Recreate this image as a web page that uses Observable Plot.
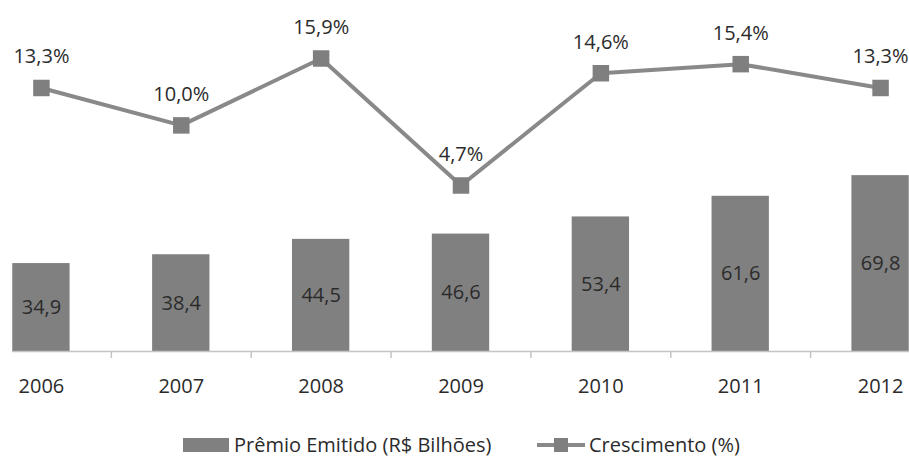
<!DOCTYPE html>
<html>
<head>
<meta charset="utf-8">
<script src="https://cdn.jsdelivr.net/npm/d3@7"></script>
<script src="https://cdn.jsdelivr.net/npm/@observablehq/plot@0.6"></script>
<style>
  html, body { margin: 0; padding: 0; background: #fff; }
  #wrap { position: relative; width: 909px; height: 458px; font-family: "Open Sans", sans-serif; color: #333; }
  #wrap svg { position: absolute; left: 0; top: 0; }
  #legend { position: absolute; left: 0; top: 431px; width: 909px; height: 27px; }
</style>
</head>
<body>
<div id="wrap"></div>
<script>
const years = ["2006", "2007", "2008", "2009", "2010", "2011", "2012"];
const premio = [34.9, 38.4, 44.5, 46.6, 53.4, 61.6, 69.8];
const crescimento = [13.3, 10.0, 15.9, 4.7, 14.6, 15.4, 13.3];
const legendLabels = ["Prêmio Emitido (R$ Bilhões)", "Crescimento (%)"];

const data = years.map((y, i) => ({year: y, premio: premio[i], cresc: crescimento[i]}));
const fmt = v => v.toFixed(1).replace(".", ",");

const W = 909, H = 410;
const xOpts = {type: "band", domain: years, range: [-29, 950], paddingInner: 0.59, paddingOuter: 0.295, align: 0.5, round: false};
const bs = d3.scaleBand().domain(years).range(xOpts.range).paddingInner(0.59).paddingOuter(0.295).align(0.5);
const step = bs.step();

const font = "Open Sans, sans-serif";
const textColor = "#2b2b2b";

const bars = Plot.plot({
  width: W, height: H,
  marginTop: 0, marginBottom: 59, marginLeft: 12, marginRight: 0,
  style: {fontFamily: font, background: "transparent", overflow: "hidden"},
  x: xOpts,
  y: {domain: [0, 139.3], axis: null},
  marks: [
    Plot.barY(data, {x: "year", y: "premio", fill: "#808080"}),
    Plot.ruleY([0], {stroke: "#c4c4c4", strokeWidth: 1.5}),
    Plot.axisX({tickSize: 7, tickFormat: () => "", dx: step / 2, stroke: "#c4c4c4", strokeWidth: 1.5, label: null}),
    Plot.axisX({tickSize: 0, tickPadding: 27, fontSize: 20, fill: textColor, label: null}),
    Plot.text(data, {x: "year", y: d => d.premio / 2, text: d => fmt(d.premio), fontSize: 20, fill: textColor})
  ]
});

const line = Plot.plot({
  width: W, height: H,
  marginTop: 0, marginBottom: 59, marginLeft: 12, marginRight: 0,
  style: {fontFamily: font, background: "transparent"},
  x: {...xOpts, axis: null},
  y: {domain: [4.7, 15.9], range: [185, 58], axis: null},
  marks: [
    Plot.line(data, {x: "year", y: "cresc", stroke: "#898989", strokeWidth: 4}),
    Plot.dot(data, {x: "year", y: "cresc", symbol: "square", r: 9.3, fill: "#7f7f7f", stroke: "none"}),
    Plot.text(data, {x: "year", y: "cresc", text: d => fmt(d.cresc) + "%", dy: -31, fontSize: 20, fill: textColor})
  ]
});

const wrap = document.getElementById("wrap");
wrap.appendChild(bars);
wrap.appendChild(line);

// Legend
const legend = document.createElement("div");
legend.id = "legend";
legend.innerHTML = `
<svg width="909" height="27" style="position:absolute;left:0;top:0;font-family:'Open Sans',sans-serif">
  <rect x="183" y="7" width="46" height="14" fill="#808080"></rect>
  <text x="234" y="14" dy="0.35em" font-size="20" fill="${textColor}">${legendLabels[0]}</text>
  <line x1="537" x2="585" y1="14" y2="14" stroke="#898989" stroke-width="4"></line>
  <rect x="554" y="7" width="14" height="14" fill="#7f7f7f"></rect>
  <text x="589" y="14" dy="0.35em" font-size="20" fill="${textColor}">${legendLabels[1]}</text>
</svg>`;
wrap.appendChild(legend);
</script>
</body>
</html>
